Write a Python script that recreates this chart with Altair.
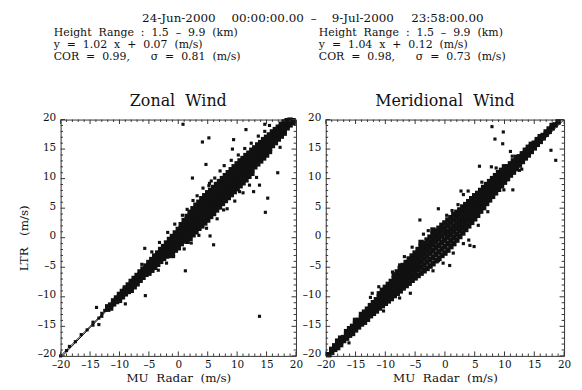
import altair as alt
import pandas as pd

# ---------------- data ----------------
zonal_columns = [
    (-12, [-12.1, -11.7]), (-11.5, [-11.4, -11.9]), (-11, [-10.7, -11.2]),
    (-10.5, [-10.2, -10.8, -10.5]), (-10, [-9.6, -10.1, -10.6]), (-9.5, [-9.1, -9.6, -10.0]),
    (-9, [-8.5, -9.0, -9.5, -8.8]), (-8.5, [-8.0, -8.6, -9.1]), (-8, [-7.4, -7.9, -8.4, -8.9]),
    (-7.5, [-6.9, -7.4, -7.9, -8.3]), (-7, [-6.4, -6.9, -7.3, -7.8]), (-6.5, [-5.8, -6.3, -6.8, -7.2]),
    (-6, [-5.3, -5.8, -6.2, -6.7]), (-5.5, [-4.8, -5.3, -5.7, -6.2]), (-5, [-4.2, -4.7, -5.1, -5.6, -6.0]),
    (-4.5, [-3.7, -4.2, -4.6, -5.1, -5.5]), (-4, [-3.1, -3.6, -4.1, -4.5, -5.0]),
    (-3.5, [-2.6, -3.1, -3.5, -4.0, -4.5]), (-3, [-2.0, -2.6, -3.0, -3.5, -4.0]),
    (-2.5, [-1.5, -2.0, -2.5, -3.0, -3.5]), (-2, [-0.9, -1.5, -2.0, -2.5, -3.1]),
    (-1.5, [-0.3, -0.9, -1.4, -1.9, -2.5, -3.0]), (-1, [0.2, -0.4, -0.9, -1.4, -2.0, -2.6]),
    (-0.5, [0.8, 0.2, -0.4, -0.9, -1.5, -2.1]), (0, [1.4, 0.7, 0.1, -0.5, -1.1, -1.7]),
    (0.5, [2.2, 1.5, 0.9, 0.3, -0.3, -1.0]), (1, [2.9, 2.2, 1.5, 0.9, 0.2, -0.5]),
    (1.5, [3.6, 2.9, 2.2, 1.5, 0.8, 0.1, -0.6]), (2, [4.3, 3.5, 2.8, 2.1, 1.4, 0.7, -0.1]),
    (2.5, [4.9, 4.1, 3.4, 2.7, 2.0, 1.3, 0.5]), (3, [5.5, 4.7, 3.9, 3.2, 2.5, 1.8, 1.0]),
    (3.5, [6.0, 5.2, 4.5, 3.8, 3.0, 2.3, 1.6]), (4, [6.6, 5.8, 5.0, 4.3, 3.5, 2.8, 2.0]),
    (4.5, [7.1, 6.3, 5.5, 4.8, 4.0, 3.2, 2.5]), (5, [7.6, 6.8, 6.0, 5.3, 4.5, 3.7, 3.0]),
    (5.5, [8.0, 7.3, 6.5, 5.8, 5.0, 4.3, 3.6]), (6, [8.5, 7.8, 7.0, 6.3, 5.6, 4.8, 4.1]),
    (6.5, [9.0, 8.3, 7.5, 6.8, 6.1, 5.3, 4.7]), (7, [9.5, 8.7, 8.0, 7.3, 6.6, 5.9, 5.2]),
    (7.5, [10.0, 9.2, 8.5, 7.8, 7.1, 6.4, 5.8]), (8, [10.5, 9.7, 9.0, 8.3, 7.6, 6.9, 6.3]),
    (8.5, [11.0, 10.2, 9.5, 8.8, 8.1, 7.4, 6.8]), (9, [11.5, 10.8, 10.0, 9.3, 8.6, 7.9, 7.3]),
    (9.5, [12.0, 11.3, 10.5, 9.8, 9.1, 8.4, 7.8]), (10, [12.5, 11.8, 11.0, 10.3, 9.6, 8.9, 8.3]),
    (10.5, [13.0, 12.2, 11.5, 10.8, 10.1, 9.4, 8.8]), (11, [13.4, 12.7, 12.0, 11.3, 10.6, 9.9, 9.3]),
    (11.5, [13.9, 13.2, 12.5, 11.8, 11.1, 10.4, 9.8]), (12, [14.3, 13.6, 12.9, 12.2, 11.6, 10.9, 10.4]),
    (12.5, [14.8, 14.1, 13.4, 12.7, 12.1, 11.5, 10.9]), (13, [15.2, 14.6, 13.9, 13.2, 12.6, 12.0]),
    (13.5, [15.7, 15.0, 14.4, 13.7, 13.1, 12.5]), (14, [16.1, 15.5, 14.9, 14.2, 13.6, 13.0]),
    (14.5, [16.6, 16.0, 15.3, 14.7, 14.1, 13.5]), (15, [17.0, 16.4, 15.8, 15.2, 14.6, 14.0]),
    (15.5, [17.4, 16.9, 16.3, 15.7, 15.1, 14.6]), (16, [17.9, 17.3, 16.8, 16.2, 15.6]),
    (16.5, [18.3, 17.8, 17.2, 16.7, 16.1]), (17, [18.7, 18.2, 17.7, 17.2, 16.7]),
    (17.5, [19.2, 18.7, 18.2, 17.7, 17.2]), (18, [19.6, 19.1, 18.6, 18.1, 17.7]),
    (18.5, [19.8, 19.5, 19.0, 18.6]), (19, [19.9, 19.5, 19.1]), (19.5, [19.8, 19.5]),
]
zonal_extra_x = [0.8, 4.1, 5.2, 9.4, 9.2, 11.5, 14.7, 15.5, 4.7, 2.4, 5.6, 5.2, 7.7, 10.4, 12.8,
                 13.8, 15.2, 14.8, 16.9, 17.3, 13.8, 5.4, 6.0, 1.2, -3.4, -5.7, -8.0, -5.6, -9.0,
                 -13.9, -13.5, 1.5, 2.5, 3.2, 4.2, 5.3, 6.2, 7.1, 7.8, 9.0, 10.2, 11.3, 12.4, 13.6,
                 14.7, 3.5, 4.8, 6.6, 8.3, 9.6, 11.0, 12.1, 13.3, -3.2, -1.8, -0.6, 0.7, -4.5, -6.2,
                 -2.0, -0.8, 1.0, 2.2,
                 -20.0, -19.0, -18.5, -17.5, -16.5, -15.5, -14.5, -14.5, -13.5, -13.0, -13.0, -12.5]
zonal_extra_y = [19.2, 16.2, 16.9, 16.6, 15.0, 18.3, 19.2, 19.0, 12.4, 10.1, 9.6, 8.8, 4.7, 7.8, 7.8,
                 8.9, 6.7, 4.3, 11.0, 15.3, -13.3, 0.3, -1.2, -5.6, -5.5, -1.8, -9.1, -9.8, -11.2,
                 -11.8, -14.7, 4.8, 6.3, 7.1, 8.4, 9.2, 10.1, 11.3, 12.2, 13.1, 14.0, 15.1, 16.0, 17.2,
                 18.0, 0.4, 1.6, 3.2, 4.9, 6.2, 7.6, 8.9, 10.2, -0.8, 0.9, 2.3, 3.8, -2.4, -4.5,
                 -4.3, -3.2, -1.9, -0.9,
                 -20.0, -19.1, -18.4, -17.6, -16.4, -15.6, -14.3, -14.8, -13.6, -12.8, -13.3, -12.3]

merid_columns = [
    (-19.5, [-19.8]), (-19, [-19.4, -18.9]), (-18.5, [-18.9, -18.3]), (-18, [-18.6, -18.0, -17.5]),
    (-17.5, [-18.1, -17.6, -17.0]), (-17, [-17.4, -16.9]), (-16.5, [-17.0, -16.4, -15.9]),
    (-16, [-16.5, -16.0, -15.4]), (-15.5, [-16.2, -15.6, -15.0]), (-15, [-15.6, -15.1, -14.5, -14.0]),
    (-14.5, [-15.1, -14.6, -14.0]), (-14, [-14.6, -14.1, -13.5, -13.0]),
    (-13.5, [-14.3, -13.7, -13.1, -12.6]), (-13, [-13.8, -13.2, -12.6, -12.1]),
    (-12.5, [-13.2, -12.6, -12.0, -11.5]), (-12, [-12.8, -12.2, -11.6, -11.0]),
    (-11.5, [-12.4, -11.8, -11.1, -10.5]), (-11, [-11.9, -11.3, -10.6, -10.0, -9.5]),
    (-10.5, [-11.5, -10.8, -10.2, -9.5, -8.9]), (-10, [-11.1, -10.4, -9.7, -9.0, -8.4]),
    (-9.5, [-10.7, -10.0, -9.3, -8.6, -7.9]), (-9, [-10.3, -9.5, -8.8, -8.1, -7.4]),
    (-8.5, [-9.8, -9.1, -8.4, -7.6, -6.9, -6.3]), (-8, [-9.4, -8.6, -7.9, -7.1, -6.4, -5.8]),
    (-7.5, [-9.0, -8.2, -7.4, -6.7, -5.9, -5.2]), (-7, [-8.5, -7.7, -7.0, -6.2, -5.4, -4.7]),
    (-6.5, [-8.1, -7.3, -6.5, -5.7, -4.9, -4.2]), (-6, [-7.7, -6.8, -6.0, -5.2, -4.4, -3.6]),
    (-5.5, [-7.2, -6.4, -5.5, -4.7, -3.9, -3.1]), (-5, [-6.8, -5.9, -5.0, -4.2, -3.4, -2.6]),
    (-4.5, [-6.4, -5.4, -4.5, -3.7, -2.9, -2.0]), (-4, [-6.0, -5.0, -4.1, -3.2, -2.4, -1.5, -0.8]),
    (-3.5, [-5.6, -4.6, -3.6, -2.7, -1.8, -1.0]), (-3, [-5.2, -4.1, -3.1, -2.2, -1.3, -0.4]),
    (-2.5, [-4.8, -3.7, -2.6, -1.7, -0.8, 0.1]), (-2, [-4.4, -3.3, -2.2, -1.2, -0.3, 0.6, 1.3]),
    (-1.5, [-3.9, -2.8, -1.7, -0.7, 0.2, 1.1]), (-1, [-3.5, -2.4, -1.3, -0.2, 0.7, 1.6]),
    (-0.5, [-3.0, -1.9, -0.8, 0.3, 1.2, 2.1]), (0, [-2.6, -1.5, -0.4, 0.7, 1.6, 2.5]),
    (0.5, [-2.1, -1.0, 0.1, 1.1, 2.1, 3.0]), (1, [-1.5, -0.5, 0.5, 1.5, 2.5, 3.4]),
    (1.5, [-1.0, 0.0, 1.0, 2.0, 3.0, 3.9]), (2, [-0.4, 0.6, 1.6, 2.5, 3.4, 4.3]),
    (2.5, [0.2, 1.2, 2.1, 3.0, 3.9, 4.7]), (3, [0.8, 1.7, 2.6, 3.5, 4.4, 5.2]),
    (3.5, [1.4, 2.3, 3.1, 4.0, 4.8, 5.6]), (4, [2.0, 2.9, 3.7, 4.5, 5.3, 6.1]),
    (4.5, [2.6, 3.4, 4.2, 5.0, 5.8, 6.6]), (5, [3.2, 4.0, 4.8, 5.5, 6.3, 7.1]),
    (5.5, [3.8, 4.6, 5.3, 6.0, 6.8, 7.5]), (6, [4.5, 5.2, 5.9, 6.6, 7.3, 8.0]),
    (6.5, [5.1, 5.8, 6.5, 7.1, 7.8, 8.5]), (7, [5.8, 6.4, 7.0, 7.7, 8.3, 9.0]),
    (7.5, [6.4, 7.0, 7.6, 8.2, 8.8, 9.5]), (8, [7.0, 7.6, 8.2, 8.8, 9.4, 10.0]),
    (8.5, [7.6, 8.2, 8.8, 9.3, 9.9, 10.5]), (9, [8.2, 8.8, 9.3, 9.9, 10.4, 11.0]),
    (9.5, [8.8, 9.4, 9.9, 10.4, 10.9, 11.4]), (10, [9.4, 9.9, 10.4, 10.9, 11.4, 12.0]),
    (10.5, [10.0, 10.5, 11.0, 11.5, 12.0]), (11, [10.6, 11.1, 11.6, 12.0, 12.5]),
    (11.5, [11.1, 11.6, 12.1, 12.6, 13.0]), (12, [11.7, 12.2, 12.7, 13.1, 13.6]),
    (12.5, [12.3, 12.8, 13.2, 13.7]), (13, [12.9, 13.3, 13.8, 14.2]),
    (13.5, [13.5, 13.9, 14.3, 14.8]), (14, [14.0, 14.5, 14.9, 15.3]),
    (14.5, [14.6, 15.0, 15.4, 15.8]), (15, [15.2, 15.6, 16.0]), (15.5, [15.8, 16.2, 16.6]),
    (16, [16.3, 16.7, 17.1]), (16.5, [16.9, 17.3]), (17, [17.5, 17.9]), (17.5, [18.0, 18.4]),
    (18, [18.6, 19.0]), (18.5, [19.1]), (19, [19.6]),
]
merid_extra_x = [7.9, 9.8, 8.4, 9.7, 11.0, 17.8, 18.6, 5.8, 7.8, 12.5, 11.4, 2.7, 3.1, 3.9, -1.1,
                 -4.2, -3.6, 4.0, 4.2, 4.9, 0.8, -1.1, -6.9, -5.8, -7.6, -11.1, -12.5, -16.1, -13.7,
                 0.3, 1.2, 2.2, -2.8, -5.5, -6.8, -8.8, -2.0, -0.3, 1.4, 3.1, 5.6, 7.2, 6.2, 8.6,
                 9.9, 11.3, 12.9, -10.3, -7.6, -12.2]
merid_extra_y = [18.8, 17.9, 16.7, 15.9, 14.6, 14.8, 13.1, 12.1, 12.0, 11.4, 8.1, 7.9, 7.3, 7.9, 4.9,
                 3.0, 0.6, -0.4, -1.3, -1.5, -4.7, -3.9, -8.4, -9.4, -4.6, -8.3, -10.1, -17.8, -14.0,
                 3.8, 4.6, 5.6, 1.2, -1.6, -3.2, -5.8, -5.6, -4.3, -2.6, -1.0, 2.1, 4.4, 9.4, 11.8,
                 8.1, 13.8, 11.6, -12.4, -10.2, -9.4]

line_x = [-20, 20]
identity_y = [-20, 20]
zonal_fit_y = [-20.33, 20.47]    # y = 1.02 x + 0.07
merid_fit_y = [-20.68, 20.92]    # y = 1.04 x + 0.12

tick_major = [-20, -15, -10, -5, 0, 5, 10, 15, 20]
tick_minor = [-19, -18, -17, -16, -14, -13, -12, -11, -9, -8, -7, -6, -4, -3, -2, -1,
              1, 2, 3, 4, 6, 7, 8, 9, 11, 12, 13, 14, 16, 17, 18, 19]

S = "\u00a0"   # spaces that survive SVG whitespace collapsing
date_parts = ["24-Jun-2000", "00:00:00.00", "\u2013", "9-Jul-2000", "23:58:00.00"]
date_offsets = [82, 172, 252, 273, 353]   # px from the left panel's left edge
zonal_header = [f"Height{S*2}Range{S*2}:{S*2}1.5{S*2}\u2013{S*2}9.9{S*2}(km)",
                f"y{S*2}={S*2}1.02{S*2}x{S*2}+{S*2}0.07{S*2}(m/s)",
                f"COR{S*2}={S*2}0.99,{S*6}\u03c3{S*2}={S*2}0.81{S*2}(m/s)"]
merid_header = [f"Height{S*2}Range{S*2}:{S*2}1.5{S*2}\u2013{S*2}9.9{S*2}(km)",
                f"y{S*2}={S*2}1.04{S*2}x{S*2}+{S*2}0.12{S*2}(m/s)",
                f"COR{S*2}={S*2}0.98,{S*6}\u03c3{S*2}={S*2}0.73{S*2}(m/s)"]

# ---------------- styling ----------------
FONT = "DejaVu Serif"
INK = "#111111"
FRAME = "#333333"
H = 238
LO, HI = -20, 20
DOM = alt.Scale(domain=[LO, HI], nice=False, zero=False)
MAJ_LEN = 0.75   # inward tick length in axis units
MIN_LEN = 0.4
LABEL_EXPR = "replace(toString(datum.value), '-', '\u2013')"


def flatten(columns):
    xs, ys = [], []
    for x, col in columns:
        for y in col:
            xs.append(x)
            ys.append(y)
    return pd.DataFrame({"x": xs, "y": ys})


def tick_frame(vals, ln):
    rows = []
    for v in vals:
        rows.append({"x": v, "x2": v, "y": LO, "y2": LO + ln})   # bottom
        rows.append({"x": v, "x2": v, "y": HI, "y2": HI - ln})   # top
        rows.append({"x": LO, "x2": LO + ln, "y": v, "y2": v})   # left
        rows.append({"x": HI, "x2": HI - ln, "y": v, "y2": v})   # right
    return pd.DataFrame(rows)


def panel(columns, ex, ey, fit_y, title, header, width, ytitle, date=False):
    band = flatten(columns)
    extra = pd.DataFrame({"x": ex, "y": ey})
    xaxis = alt.Axis(values=tick_major, ticks=False, domain=False, grid=False,
                     labelExpr=LABEL_EXPR, labelPadding=4,
                     labelOverlap=False, labelFlush=False,
                     title=f"MU{S*2}Radar{S*2}(m/s)", titlePadding=2)
    yaxis = alt.Axis(values=tick_major, ticks=False, domain=False, grid=False,
                     labelExpr=LABEL_EXPR, labelPadding=5, labelOffset=-2,
                     labelOverlap=False, labelFlush=False,
                     title=ytitle if ytitle else None, titlePadding=7)

    def X(field="x"):
        return alt.X(f"{field}:Q", scale=DOM, axis=xaxis)

    def Y(field="y"):
        return alt.Y(f"{field}:Q", scale=DOM, axis=yaxis)

    layers = [
        alt.Chart(band).mark_square(size=30, color=INK, opacity=1).encode(x=X(), y=Y()),
        alt.Chart(extra).mark_square(size=10, color=INK, opacity=1).encode(x=X(), y=Y()),
    ]
    for ly in (identity_y, fit_y):
        layers.append(alt.Chart(pd.DataFrame({"x": line_x, "y": ly})).mark_line(
            color=INK, strokeWidth=1, clip=True).encode(x=X(), y=Y()))
    for vals, ln in ((tick_major, MAJ_LEN), (tick_minor, MIN_LEN)):
        layers.append(alt.Chart(tick_frame(vals, ln)).mark_rule(
            color=FRAME, strokeWidth=1).encode(x=X(), x2="x2:Q", y=Y(), y2="y2:Q"))
    layers.append(alt.Chart(pd.DataFrame({"t": [title]})).mark_text(
        font=FONT, fontSize=16, color=INK, align="center", baseline="middle").encode(
        x=alt.value(width / 2), y=alt.value(-19), text="t:N"))
    for i, line in enumerate(header):
        layers.append(alt.Chart(pd.DataFrame({"t": [line]})).mark_text(
            font=FONT, fontSize=11, color=INK, align="left", baseline="middle").encode(
            x=alt.value(-7), y=alt.value(-87 + 12 * i), text="t:N"))
    if date:
        for part, off in zip(date_parts, date_offsets):
            layers.append(alt.Chart(pd.DataFrame({"t": [part]})).mark_text(
                font=FONT, fontSize=12, color=INK, align="left", baseline="middle").encode(
                x=alt.value(off), y=alt.value(-102), text="t:N"))
    return alt.layer(*layers).properties(width=width, height=H)


left = panel(zonal_columns, zonal_extra_x, zonal_extra_y, zonal_fit_y, f"Zonal{S*2}Wind",
             zonal_header, 237, f"LTR{S*3}(m/s)", date=True)
right = panel(merid_columns, merid_extra_x, merid_extra_y, merid_fit_y, f"Meridional{S*2}Wind",
              merid_header, 240, None)

chart = alt.hconcat(left, right, spacing=30, bounds="flush").properties(
    padding={"left": 8, "top": 2, "right": 2, "bottom": 2},
    background="white",
).configure_view(stroke=FRAME, strokeWidth=1).configure_axis(
    labelFont=FONT, labelFontSize=10.5, labelColor=INK,
    titleFont=FONT, titleFontSize=12, titleFontWeight="normal", titleColor=INK,
)

chart.save("out.html", embed_options={"renderer": "svg", "actions": False})
